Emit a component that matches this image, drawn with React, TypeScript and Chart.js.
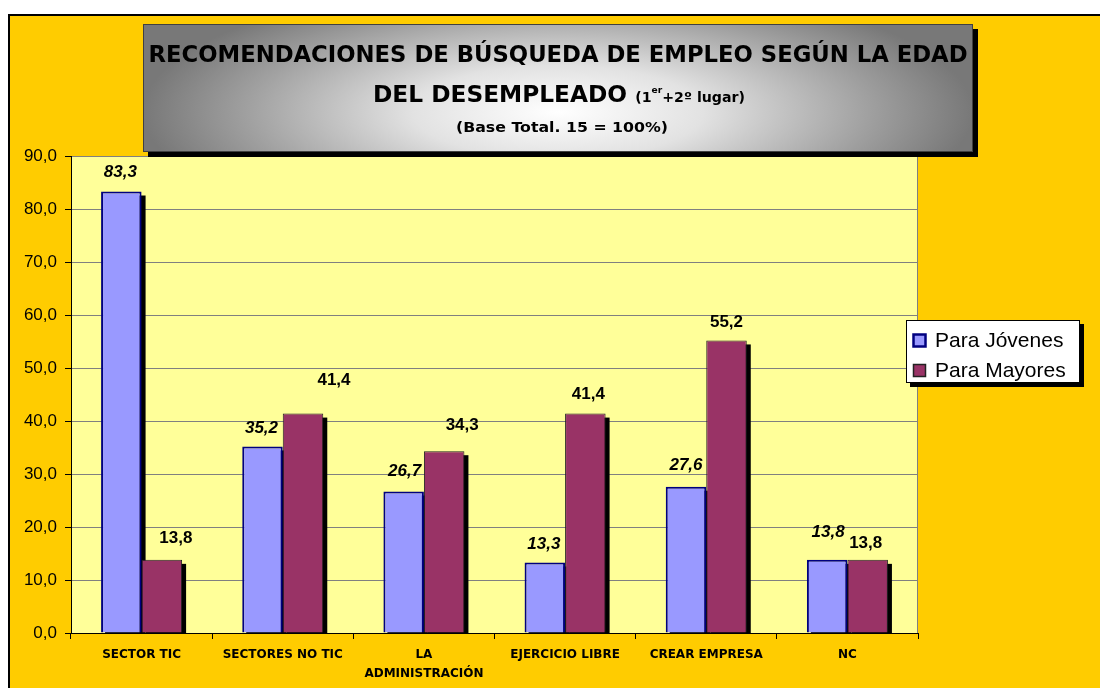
import React, { useEffect, useRef } from "react";
import { Chart, registerables } from "chart.js";

Chart.register(...registerables);

// ---- data ----
const categories: (string | string[])[] = [
  "SECTOR TIC",
  "SECTORES NO TIC",
  ["LA", "ADMINISTRACIÓN"],
  "EJERCICIO LIBRE",
  "CREAR EMPRESA",
  "NC",
];
const seriesNames = ["Para Jóvenes", "Para Mayores"];
const jovenes = [83.3, 35.2, 26.7, 13.3, 27.6, 13.8];
const mayores = [13.8, 41.4, 34.3, 41.4, 55.2, 13.8];
const yMin = 0;
const yMax = 90;
const yStep = 10;
const titleLine1 = "RECOMENDACIONES DE BÚSQUEDA DE EMPLEO SEGÚN LA EDAD";
const titleLine2Main = "DEL DESEMPLEADO";
const titleLine2Note = ["(1", "er", "+2º lugar)"];
const titleLine3 = "(Base Total. 15 = 100%)";

// ---- styles ----
const colors = ["#9999FF", "#993366"];
const borders = ["#000080", "#222222"];
const borderWidths = [2, 1];
const labelNudges = [
  [[-1, -19], [-1, -18], [1, -20], [-1, -18], [0, -21], [1, -28]],
  [[14, -22], [31, -33], [18, -26], [3, -19], [0, -18], [-2, -17]],
];
const fmt = (v: number) => v.toFixed(1).replace(".", ",");

const W = 1092;
const H = 674;

const decor = {
  id: "decor",
  beforeDraw(chart: any) {
    const { ctx, width, height, chartArea: a } = chart;
    ctx.save();
    ctx.fillStyle = "#FFCC00";
    ctx.fillRect(0, 0, width, height);
    ctx.fillStyle = "#000";
    ctx.fillRect(0, 0, width, 2);
    ctx.fillRect(0, 0, 2, height);
    ctx.fillStyle = "#FFFF99";
    ctx.fillRect(a.left, a.top, a.right - a.left, a.bottom - a.top);
    ctx.restore();
  },
  beforeDatasetsDraw(chart: any) {
    const { ctx, chartArea: a } = chart;
    ctx.save();
    ctx.strokeStyle = "#808080";
    ctx.lineWidth = 1;
    ctx.beginPath();
    ctx.moveTo(a.right - 0.5, a.top);
    ctx.lineTo(a.right - 0.5, a.bottom);
    ctx.stroke();
    ctx.beginPath();
    ctx.rect(a.left, a.top, a.right - a.left, a.bottom - a.top);
    ctx.clip();
    ctx.fillStyle = "#000";
    chart.data.datasets.forEach((_: any, di: number) => {
      const meta = chart.getDatasetMeta(di);
      meta.data.forEach((bar: any) => {
        const p = bar.getProps(["x", "y", "base", "width"], true);
        const left = p.x - p.width / 2;
        ctx.fillRect(left + 4, p.y + 4, p.width, p.base - p.y);
      });
    });
    ctx.restore();
  },
  afterDatasetsDraw(chart: any) {
    const { ctx } = chart;
    ctx.save();
    ctx.textAlign = "center";
    ctx.textBaseline = "middle";
    ctx.fillStyle = "#000";
    chart.data.datasets.forEach((ds: any, di: number) => {
      const meta = chart.getDatasetMeta(di);
      ctx.font =
        (di === 0 ? "italic " : "") + 'bold 17px "Liberation Sans", Arial, sans-serif';
      meta.data.forEach((bar: any, i: number) => {
        const p = bar.getProps(["x", "y"], true);
        const [dx, dy] = labelNudges[di][i];
        ctx.fillText(fmt(ds.data[i]), p.x + dx, p.y + dy);
      });
    });
    ctx.restore();
  },
  afterDraw(chart: any) {
    const { ctx } = chart;
    // ---- title box ----
    const bx = 135, by = 10, bw = 830, bh = 128;
    ctx.save();
    ctx.fillStyle = "#000";
    ctx.fillRect(bx + 5, by + 5, bw, bh);
    ctx.save();
    ctx.beginPath();
    ctx.rect(bx, by, bw, bh);
    ctx.clip();
    const cx = bx + bw / 2, cy = by + 88;
    ctx.translate(cx, cy);
    ctx.scale(1, 0.32);
    const g = ctx.createRadialGradient(0, 0, 0, 0, 0, bw / 2);
    g.addColorStop(0, "#ffffff");
    g.addColorStop(0.35, "#e2e2e2");
    g.addColorStop(0.75, "#a0a0a0");
    g.addColorStop(1, "#787878");
    ctx.fillStyle = g;
    ctx.fillRect(-bw, -bh * 6, bw * 2, bh * 12);
    ctx.restore();
    ctx.strokeStyle = "#404040";
    ctx.lineWidth = 1;
    ctx.strokeRect(bx + 0.5, by + 0.5, bw - 1, bh - 1);

    const fitText = (text: string, font: string, cxp: number, cyp: number, target: number) => {
      ctx.font = font;
      const w = ctx.measureText(text).width;
      const s = target / w;
      ctx.save();
      ctx.translate(cxp, cyp);
      ctx.scale(s, 1);
      ctx.textAlign = "center";
      ctx.textBaseline = "middle";
      ctx.fillStyle = "#000";
      ctx.fillText(text, 0, 0);
      ctx.restore();
    };
    const big = 'bold 23px "DejaVu Sans", sans-serif';
    const small = 'bold 14px "DejaVu Sans", sans-serif';
    const sup = 'bold 9px "DejaVu Sans", sans-serif';
    fitText(titleLine1, big, 550, 42, 819);

    // line 2 with mixed sizes
    const parts = [
      { t: titleLine2Main + " ", f: big, dy: 0 },
      { t: titleLine2Note[0], f: small, dy: 2 },
      { t: titleLine2Note[1], f: sup, dy: -5 },
      { t: titleLine2Note[2], f: small, dy: 2 },
    ];
    let total = 0;
    const widths = parts.map((p) => {
      ctx.font = p.f;
      const w = ctx.measureText(p.t).width;
      total += w;
      return w;
    });
    const target2 = 372;
    const s2 = target2 / total;
    ctx.save();
    ctx.translate(551 - target2 / 2, 82);
    ctx.scale(s2, 1);
    ctx.textAlign = "left";
    ctx.textBaseline = "middle";
    ctx.fillStyle = "#000";
    let xx = 0;
    parts.forEach((p, i) => {
      ctx.font = p.f;
      ctx.fillText(p.t, xx, p.dy);
      xx += widths[i];
    });
    ctx.restore();

    fitText(titleLine3, small, 554, 114, 212);
    ctx.restore();

    // ---- legend ----
    const lx = 898, ly = 306, lw = 174, lh = 63;
    ctx.save();
    ctx.fillStyle = "#000";
    ctx.fillRect(lx + 4, ly + 4, lw, lh);
    ctx.fillStyle = "#fff";
    ctx.fillRect(lx, ly, lw, lh);
    ctx.strokeStyle = "#000";
    ctx.lineWidth = 1;
    ctx.strokeRect(lx + 0.5, ly + 0.5, lw - 1, lh - 1);
    ctx.font = '21px "Liberation Sans", Arial, sans-serif';
    ctx.textAlign = "left";
    ctx.textBaseline = "middle";
    seriesNames.forEach((name, i) => {
      const rowY = ly + 20 + i * 30;
      ctx.fillStyle = colors[i];
      ctx.fillRect(lx + 7, rowY - 6, 13, 13);
      ctx.strokeStyle = borders[i];
      ctx.lineWidth = borderWidths[i] + 0.5;
      ctx.strokeRect(lx + 7.5, rowY - 5.5, 12, 12);
      ctx.fillStyle = "#000";
      ctx.fillText(name, lx + 29, rowY + 1);
    });
    ctx.restore();
  },
};

export default function App() {
  const ref = useRef<HTMLCanvasElement | null>(null);
  useEffect(() => {
    if (!ref.current) return;
    const chart = new Chart(ref.current, {
      type: "bar",
      data: {
        labels: categories as any,
        datasets: [jovenes, mayores].map((d, i) => ({
          label: seriesNames[i],
          data: d,
          backgroundColor: colors[i],
          borderColor: borders[i],
          borderWidth: borderWidths[i],
          borderSkipped: "bottom" as const,
          barPercentage: 1,
          categoryPercentage: 0.574,
        })),
      },
      options: {
        responsive: false,
        animation: false,
        devicePixelRatio: 1,
        layout: { padding: { left: 0, top: 142, right: W - 910, bottom: 0 } },
        plugins: {
          legend: { display: false },
          title: { display: false },
          tooltip: { enabled: false },
        },
        scales: {
          x: {
            afterFit: (s: any) => {
              s.height = 55;
            },
            grid: {
              offset: true,
              drawOnChartArea: false,
              drawTicks: true,
              tickLength: 6,
              tickColor: "#000",
            },
            border: { color: "#000", width: 1 },
            ticks: {
              color: "#000",
              autoSkip: false,
              maxRotation: 0,
              minRotation: 0,
              padding: 6,
              font: { family: '"DejaVu Sans", sans-serif', weight: "bold", size: 12, lineHeight: 1.6 },
            },
          },
          y: {
            min: yMin,
            max: yMax,
            afterFit: (s: any) => {
              s.width = 63;
            },
            grid: {
              color: "#808080",
              lineWidth: 1,
              tickLength: 6,
              tickColor: "#000",
            },
            border: { color: "#000", width: 1 },
            ticks: {
              stepSize: yStep,
              color: "#000",
              padding: 8,
              font: { family: '"Liberation Sans", Arial, sans-serif', size: 17 },
              callback: (v: any) => fmt(Number(v)),
            },
          },
        },
      },
      plugins: [decor],
    } as any);
    return () => chart.destroy();
  }, []);
  return (
    <div style={{ position: "fixed", left: 8, top: 14, width: W, height: H }}>
      <canvas ref={ref} width={W} height={H} style={{ display: "block" }} />
    </div>
  );
}
